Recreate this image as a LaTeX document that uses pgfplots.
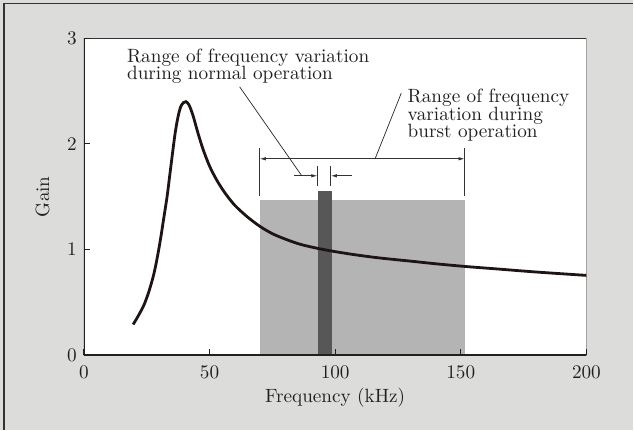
\documentclass[border=0pt]{standalone}
\usepackage{fontspec}
\setmainfont{lmroman10-regular.otf}
\usepackage{pgfplots}
\pgfplotsset{compat=1.18}
\usetikzlibrary{arrows.meta}
\definecolor{bg}{HTML}{DCDDDB}
\definecolor{rectgray}{HTML}{B4B4B4}
\definecolor{bardark}{HTML}{575757}
\definecolor{curvec}{HTML}{1E1414}
\definecolor{txt}{HTML}{231F20}
\newcommand\fsz{\fontsize{19.3}{17.4}\selectfont}
\begin{document}
\begin{tikzpicture}[x=1bp,y=1bp]
\fill[bg] (0,0) rectangle (634,430);
\draw[line width=1.3bp, color=black!80] (4,0) -- (4,426.7) -- (634,426.7);
\begin{axis}[
  at={(84bp,74.5bp)}, anchor=south west,
  scale only axis, width=503bp, height=317.2bp,
  xmin=0, xmax=200, ymin=0, ymax=3,
  xtick={0,50,100,150,200}, ytick={0,1,2,3},
  tick align=inside, major tick length=6.5bp,
  tick style={line width=0.9bp, color=txt},
  tick pos=left,
  axis line style={draw=none},
  axis background/.style={fill=white},
  axis on top,
  /pgf/number format/assume math mode=true,
  tick label style={font=\fsz, text=txt},
  xticklabel style={anchor=base, yshift=-23bp, inner sep=0pt},
  yticklabel style={anchor=east, xshift=-7bp, inner sep=0pt},
  every axis x label/.style={at={(rel axis cs:0.5,0)}, anchor=base, yshift=-47.5bp, font=\fsz, text=txt},
  every axis y label/.style={at={(rel axis cs:0,0.5)}, xshift=-41.5bp, rotate=90, anchor=center, font=\fsz, text=txt},
  xlabel={Frequency (kHz)},
  ylabel={Gain},
]
\addplot[fill=rectgray, draw=none] coordinates {(70,1.465) (151.5,1.465)} \closedcycle;
\addplot[fill=bardark, draw=none] coordinates {(93,1.556) (98.6,1.556)} \closedcycle;
\addplot[curvec, line width=2.8bp, smooth] coordinates {
(19.6,0.29)(21.7,0.375)(23.9,0.475)(25.9,0.605)(27.8,0.765)(29.2,0.925)(30.5,1.10)(31.8,1.30)(33.1,1.50)(34.1,1.69)(35.1,1.88)(36.3,2.10)(37.4,2.25)(38.5,2.35)(39.6,2.39)(40.6,2.40)(41.8,2.37)(43.4,2.27)(45.3,2.11)(47.4,1.95)(50,1.79)(52.8,1.66)(56,1.54)(60,1.42)(65,1.31)(70,1.22)(75,1.15)(80,1.10)(86,1.05)(93.2,1.01)(100,0.98)(108,0.95)(117.7,0.92)(130,0.89)(140,0.865)(151.5,0.84)(165,0.815)(180,0.787)(200,0.755)
};
% annotations
\draw[line width=0.8bp, black!80] (axis cs:70,1.509) -- (axis cs:70,1.963);
\draw[line width=0.8bp, black!80] (axis cs:151.5,1.509) -- (axis cs:151.5,1.963);
\draw[line width=0.8bp, black!80, {Latex[length=6bp,width=3.5bp]}-{Latex[length=6bp,width=3.5bp]}] (axis cs:70,1.859) -- (axis cs:151.5,1.859);
\draw[line width=0.8bp, black!80] (axis cs:92.9,1.597) -- (axis cs:92.9,1.786);
\draw[line width=0.8bp, black!80] (axis cs:98.3,1.597) -- (axis cs:98.3,1.786);
\draw[line width=0.8bp, black!80, -{Latex[length=6bp,width=3.5bp]}] (axis cs:83.5,1.698) -- (axis cs:92.9,1.698);
\draw[line width=0.8bp, black!80, -{Latex[length=6bp,width=3.5bp]}] (axis cs:106.6,1.698) -- (axis cs:98.3,1.698);
\draw[line width=0.7bp, black!85] (axis cs:62,2.54) -- (axis cs:86.7,1.698);
\draw[line width=0.7bp, black!85] (axis cs:115.9,1.859) -- (axis cs:126.3,2.48);
\node[anchor=base west, inner sep=0pt, font=\fsz, text=txt] at (axis cs:17.1,2.770) {Range of frequency variation};
\node[anchor=base west, inner sep=0pt, font=\fsz, text=txt] at (axis cs:17.1,2.606) {during normal operation};
\node[anchor=base west, inner sep=0pt, font=\fsz, text=txt] at (axis cs:128.8,2.389) {Range of frequency};
\node[anchor=base west, inner sep=0pt, font=\fsz, text=txt] at (axis cs:128.8,2.224) {variation during};
\node[anchor=base west, inner sep=0pt, font=\fsz, text=txt] at (axis cs:128.8,2.060) {burst operation};
% axis frame
\draw[line width=1.1bp, black!80] (rel axis cs:0,1) -- (rel axis cs:1,1) -- (rel axis cs:1,0);
\draw[line width=2.6bp, txt, line cap=rect] (rel axis cs:0,1) -- (rel axis cs:0,0) -- (rel axis cs:1,0);
\end{axis}
\useasboundingbox (0,0) rectangle (634,430);
\end{tikzpicture}
\end{document}
